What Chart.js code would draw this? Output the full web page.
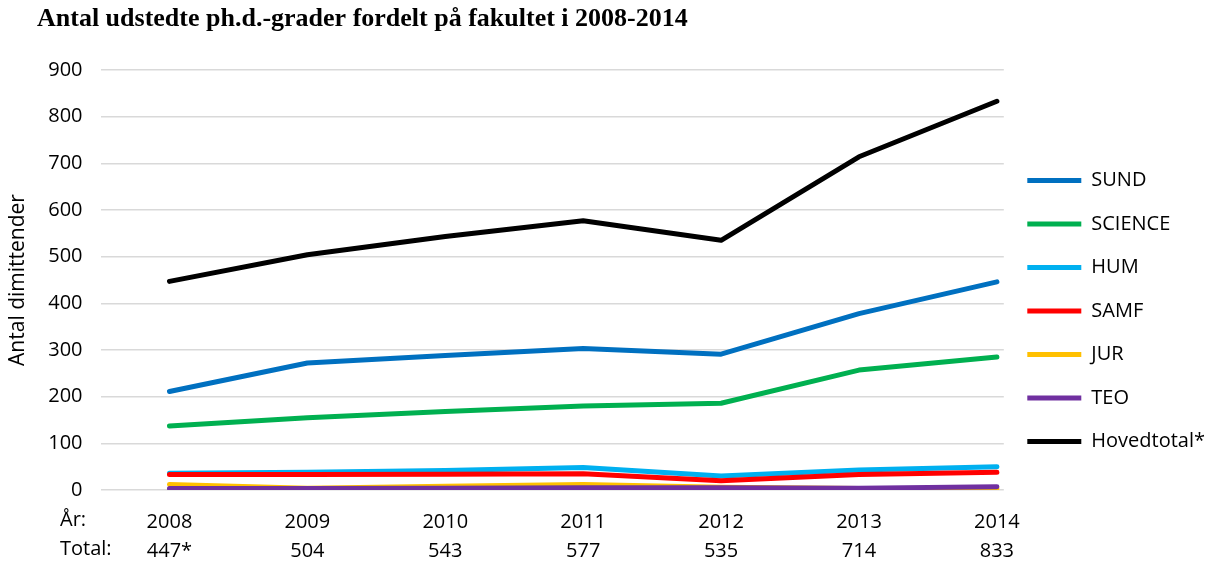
<!DOCTYPE html>
<html>
<head>
<meta charset="utf-8">
<script src="https://cdn.jsdelivr.net/npm/chart.js@4/dist/chart.umd.min.js"></script>
<style>
  html, body { margin: 0; padding: 0; background: #fff; }
  #wrap { width: 1215px; height: 565px; position: relative; }
</style>
</head>
<body>
<div id="wrap"><canvas id="phdChart"></canvas></div>
<script>
// values
const chartTitle = 'Antal udstedte ph.d.-grader fordelt på fakultet i 2008-2014';
const years = [2008, 2009, 2010, 2011, 2012, 2013, 2014];
const totalLabels = ['447*', '504', '543', '577', '535', '714', '833'];
const seriesNames = ['SUND', 'SCIENCE', 'HUM', 'SAMF', 'JUR', 'TEO', 'Hovedtotal*'];
const sund = [211, 272, 288, 303, 291, 378, 446];
const science = [137, 155, 168, 180, 186, 257, 285];
const hum = [36, 38, 42, 48, 30, 43, 50];
const samf = [33, 33, 34, 35, 20, 33, 38];
const jur = [12, 4, 8, 12, 6, 3, 3];
const teo = [3, 3, 4, 5, 5, 4, 7];
const hovedtotal = [447, 504, 543, 577, 535, 714, 833];
const yTicks = [0, 100, 200, 300, 400, 500, 600, 700, 800, 900];

const seriesValues = [sund, science, hum, samf, jur, teo, hovedtotal];
const seriesColors = ['#0070C0', '#00B050', '#00B0F0', '#FF0000', '#FFC000', '#7030A0', '#000000'];

const labelFont = '"Open Sans", "Noto Sans", sans-serif';

// title + row captions ("År:", "Total:")
const extraText = {
    id: 'extraText',
    afterDraw(chart) {
        const ctx = chart.ctx;
        ctx.save();
        ctx.fillStyle = '#000';
        ctx.textBaseline = 'middle';
        ctx.textAlign = 'left';
        ctx.font = 'bold 26px "Liberation Serif", serif';
        ctx.fillText(chartTitle, 37, 19);
        ctx.font = '20px ' + labelFont;
        ctx.fillText('År:', 60, 520);
        ctx.fillText('Total:', 60, 549);
        ctx.restore();
    }
};

const ctx = document.getElementById('phdChart').getContext('2d');

new Chart(ctx, {
    type: 'line',
    data: {
        labels: years,
        datasets: seriesNames.map((name, i) => ({
            label: name,
            data: seriesValues[i],
            borderColor: seriesColors[i],
            backgroundColor: seriesColors[i],
            borderWidth: 5,
            pointRadius: 0,
            tension: 0,
            borderCapStyle: 'round',
            borderJoinStyle: 'round',
            order: seriesNames.length - i // later series on top, like the original
        }))
    },
    options: {
        responsive: true,
        maintainAspectRatio: false,
        animation: false,
        layout: { padding: { top: 70, left: 1, right: 0, bottom: 0 } },
        plugins: {
            title: { display: false },
            tooltip: { enabled: false },
            legend: {
                position: 'right',
                align: 'start',
                // empty title only used as a spacer above the items
                title: { display: true, text: '', font: { size: 10 }, padding: { top: 65, bottom: 0 } },
                labels: {
                    boxWidth: 54,
                    boxHeight: 5,
                    padding: 23.5,
                    color: '#000',
                    font: { family: labelFont, size: 20 },
                    sort: (a, b) => a.datasetIndex - b.datasetIndex,
                    generateLabels: chart =>
                        Chart.defaults.plugins.legend.labels.generateLabels(chart).map(item => {
                            item.lineWidth = 0;
                            return item;
                        })
                }
            }
        },
        scales: {
            x: {
                type: 'linear',
                min: 2007.5,
                max: 2014.05,
                grid: { display: false },
                border: { display: false },
                afterBuildTicks: axis => {
                    axis.ticks = years.map(v => ({ value: v }));
                },
                afterFit: axis => {
                    axis.height = 75;
                },
                ticks: {
                    padding: 10,
                    color: '#000',
                    font: { family: labelFont, size: 20, lineHeight: 1.45 },
                    maxRotation: 0,
                    callback: v => [String(v), totalLabels[years.indexOf(v)]]
                }
            },
            y: {
                min: 0,
                max: 900,
                afterBuildTicks: axis => {
                    axis.ticks = yTicks.map(v => ({ value: v }));
                },
                grid: { color: '#d9d9d9', lineWidth: 1.5, drawTicks: false },
                border: { display: false },
                ticks: {
                    padding: 18,
                    color: '#000',
                    font: { family: labelFont, size: 20 }
                },
                title: {
                    display: true,
                    text: 'Antal dimittender',
                    color: '#000',
                    font: { family: labelFont, size: 21 },
                    padding: { top: 4, bottom: 0 }
                }
            }
        }
    },
    plugins: [extraText]
});
</script>
</body>
</html>
